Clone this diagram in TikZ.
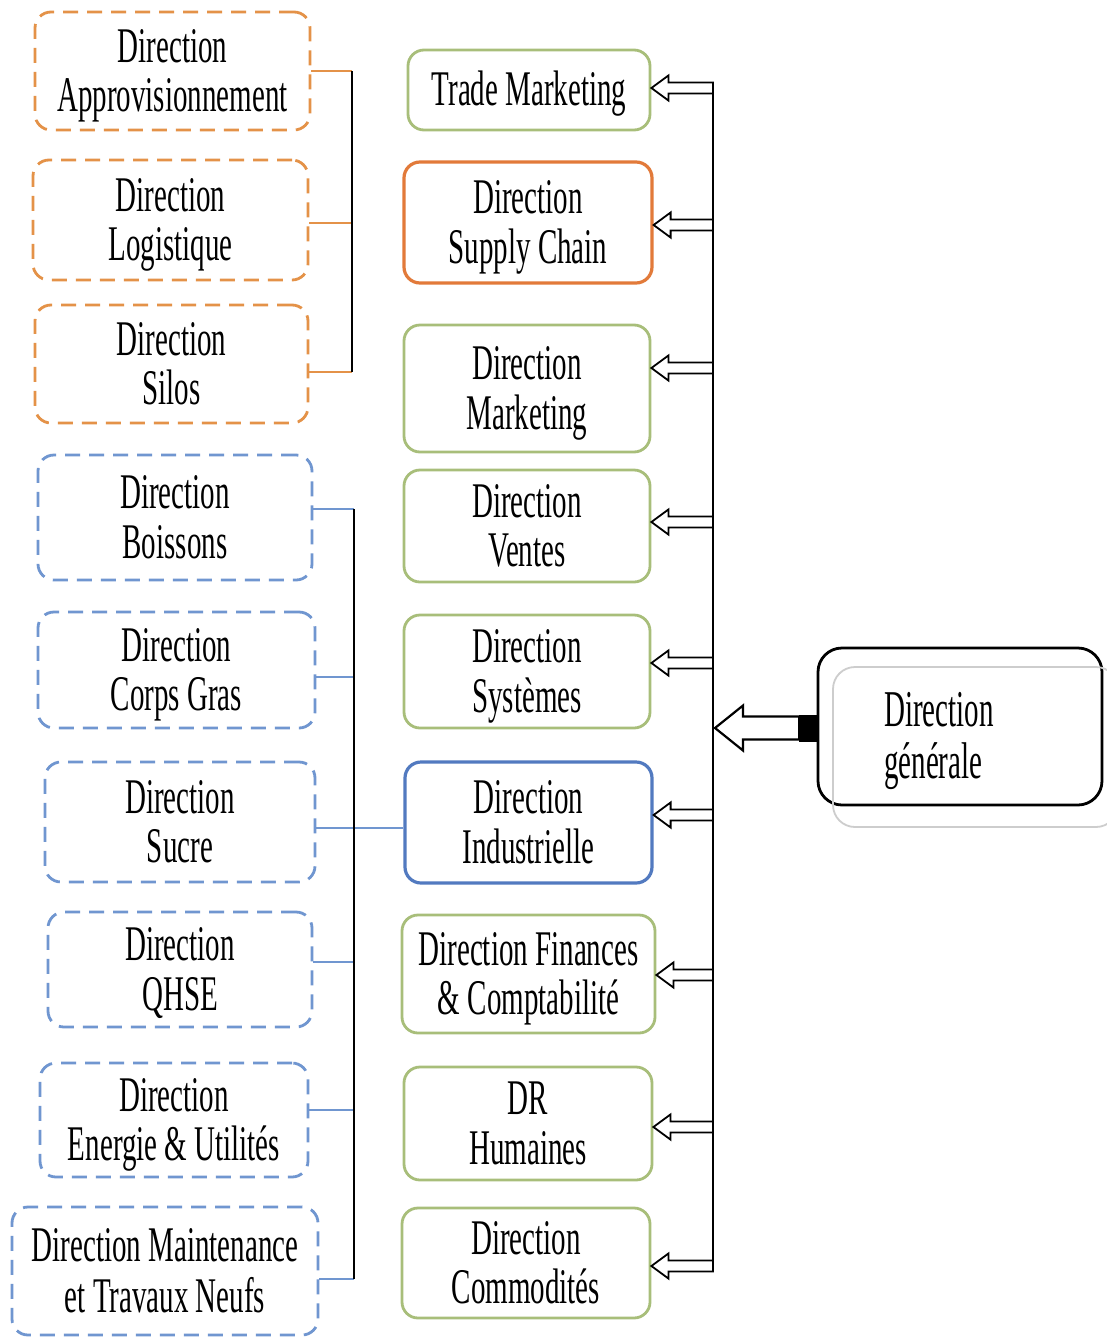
\documentclass[tikz,border=0pt]{standalone}
\usepackage{fontspec}
\setmainfont{Liberation Serif}
\usepackage{graphicx}
\usetikzlibrary{calc}
\definecolor{orgd}{RGB}{228,146,72}
\definecolor{orgs}{RGB}{226,122,58}
\definecolor{blud}{RGB}{112,150,208}
\definecolor{blus}{RGB}{82,122,192}
\definecolor{grn}{RGB}{168,190,122}
\definecolor{shadegray}{RGB}{205,205,205}
\newcommand\vs[1]{\raisebox{-6pt}[\height][\depth]{\scalebox{1}[1.72]{\begin{tabular}{@{}c@{}}#1\end{tabular}}}}
\newcommand\vsl[1]{\raisebox{-5pt}[\height][\depth]{\scalebox{1}[1.78]{\begin{tabular}{@{}l@{}}#1\end{tabular}}}}
\newcommand\barrow[3]{%
  \coordinate (tip) at (#1.east |- 0,#2);
  \draw[barr] let \p1=(tip), \p2=(#3) in (\p1) -- (\x1+17pt,\y1+12.5pt) -- (\x1+17pt,\y1+5.5pt) -- (\x2,\y1+5.5pt) -- (\x2,\y1-5.5pt) -- (\x1+17pt,\y1-5.5pt) -- (\x1+17pt,\y1-12.5pt) -- cycle;}
\begin{document}
\begin{tikzpicture}[x=1pt,y=-1pt,
  font=\fontsize{29}{29}\selectfont,
  box/.style={rounded corners=16pt, line width=2.8pt, inner sep=0pt, fill=white},
  odash/.style={box, draw=orgd, dash pattern=on 15pt off 9pt},
  bdash/.style={box, draw=blud, dash pattern=on 15pt off 9pt},
  gbox/.style={box, draw=grn},
  obox/.style={box, draw=orgs, line width=3.2pt},
  bbox/.style={box, draw=blus, line width=3.2pt},
  barr/.style={draw=black, fill=white, line width=1.8pt, line join=miter},
  bus/.style={line width=2.6pt, black},
  olink/.style={draw=orgd, line width=2pt},
  blink/.style={draw=blud, line width=2pt}]
\useasboundingbox (0,0) rectangle (1107,1339);
\fill[white] (0,0) rectangle (1107,1339);

% left orange group
\node[odash, minimum width=275pt, minimum height=118pt] (A) at (172.5,71) {\vs{Direction\\Approvisionnement}};
\node[odash, minimum width=275pt, minimum height=120pt] (L) at (170.5,220) {\vs{Direction\\Logistique}};
\node[odash, minimum width=273pt, minimum height=118pt] (S) at (171.5,364) {\vs{Direction\\Silos}};
% left blue group
\node[bdash, minimum width=274pt, minimum height=125pt] (B) at (175,517.5) {\vs{Direction\\Boissons}};
\node[bdash, minimum width=277pt, minimum height=116pt] (CG) at (176.5,670) {\vs{Direction\\Corps Gras}};
\node[bdash, minimum width=270pt, minimum height=120pt] (Su) at (180,822) {\vs{Direction\\Sucre}};
\node[bdash, minimum width=264pt, minimum height=115pt] (Q) at (180,969.5) {\vs{Direction\\QHSE}};
\node[bdash, minimum width=268pt, minimum height=114pt] (E) at (174,1120) {\vs{Direction\\Energie \& Utilités}};
\node[bdash, minimum width=306pt, minimum height=128pt] (M) at (165,1271) {\vs{Direction Maintenance\\et Travaux Neufs}};

% middle column
\node[gbox, minimum width=242pt, minimum height=80pt] (TM) at (529,90) {\vs{Trade Marketing}};
\node[obox, minimum width=248pt, minimum height=121pt] (SC) at (528,222.5) {\vs{Direction\\Supply Chain}};
\node[gbox, minimum width=246pt, minimum height=127pt] (Mk) at (527,388.5) {\vs{Direction\\Marketing}};
\node[gbox, minimum width=246pt, minimum height=112pt] (V) at (527,526) {\vs{Direction\\Ventes}};
\node[gbox, minimum width=246pt, minimum height=113pt] (Sy) at (527,671.5) {\vs{Direction\\Systèmes}};
\node[bbox, minimum width=247pt, minimum height=121pt] (I) at (528.5,822.5) {\vs{Direction\\Industrielle}};
\node[gbox, minimum width=253pt, minimum height=118pt] (F) at (528.5,974) {\vs{Direction Finances\\\& Comptabilité}};
\node[gbox, minimum width=248pt, minimum height=113pt] (DR) at (528,1123.5) {\vs{DR\\Humaines}};
\node[gbox, minimum width=248pt, minimum height=110pt] (Co) at (526,1263) {\vs{Direction\\Commodités}};

% left brackets
\coordinate (ob1) at (352,71);
\coordinate (ob2) at (352,223);
\coordinate (ob3) at (352,372);
\draw[olink] (A.east |- ob1) -- (ob1);
\draw[olink] (L.east |- ob2) -- (ob2);
\draw[olink] (S.east |- ob3) -- (ob3);
\draw[bus] (ob1) -- (ob3);

\coordinate (bb1) at (354,509);
\coordinate (bb2) at (354,677);
\coordinate (bb3) at (354,828);
\coordinate (bb4) at (354,962);
\coordinate (bb5) at (354,1110);
\coordinate (bb6) at (354,1279);
\draw[blink] (B.east |- bb1) -- (bb1);
\draw[blink] (CG.east |- bb2) -- (bb2);
\draw[blink] (Su.east |- bb3) -- (I.west |- bb3);
\draw[blink] (Q.east |- bb4) -- (bb4);
\draw[blink] (E.east |- bb5) -- (bb5);
\draw[blink] (M.east |- bb6) -- (bb6);
\draw[bus] (bb1) -- (bb6);

% right bus and arrows
\coordinate (bustop) at (713,83);
\coordinate (busbot) at (713,1272);
\barrow{TM}{88}{bustop}
\barrow{SC}{225}{bustop}
\barrow{Mk}{368}{bustop}
\barrow{V}{522}{bustop}
\barrow{Sy}{663}{bustop}
\barrow{I}{815}{bustop}
\barrow{F}{975}{bustop}
\barrow{DR}{1127}{bustop}
\barrow{Co}{1266}{bustop}
\draw[bus] (bustop) -- (busbot);

% Direction generale
\node[draw=black, line width=2.8pt, rounded corners=24pt, minimum width=284pt, minimum height=157pt, inner sep=0pt] (DG) at (960,726.5) {};
\draw[draw=shadegray, line width=1.8pt, rounded corners=22pt] (833,667) rectangle (1118,827);
\node[anchor=west, inner sep=0pt] (DGt) at (884,737) {\vsl{Direction\\générale}};
\node[fill=black, draw=black, minimum width=17pt, minimum height=26pt, inner sep=0pt, anchor=east] (sq) at (DG.west |- 0,728) {};
\coordinate (mt) at ($(bustop |- sq.west)+(2,0)$);
\draw[barr, line width=2.2pt] let \p1=(mt), \p2=(sq.west) in (\p1) -- (\x1+28pt,\y1+22.5pt) -- (\x1+28pt,\y1+11.5pt) -- (\x2,\y1+11.5pt) -- (\x2,\y1-11.5pt) -- (\x1+28pt,\y1-11.5pt) -- (\x1+28pt,\y1-22.5pt) -- cycle;
\end{tikzpicture}
\end{document}
